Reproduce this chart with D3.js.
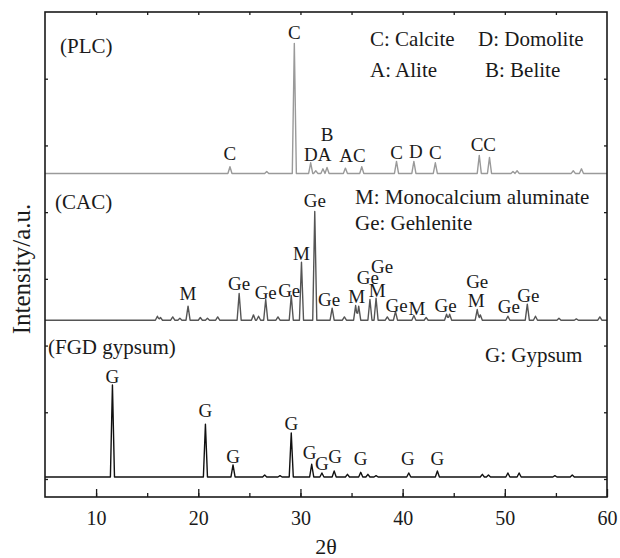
<!DOCTYPE html>
<html>
<head>
<meta charset="utf-8">
<script src="https://cdn.jsdelivr.net/npm/d3@7"></script>
<style>
  body { margin: 0; background: #fff; }
</style>
</head>
<body>
<div id="container"></div>
<script>
// peaks: [2theta, height above the pattern's own baseline] (tick units)
let plcPeaks = [[23.1,0.10],[26.7,0.03],[29.4,1.95],[31.0,0.16],[31.5,0.04],[32.2,0.07],[32.6,0.09],
  [34.4,0.08],[36.0,0.10],[39.4,0.18],[41.1,0.18],[43.2,0.16],[47.5,0.27],[48.5,0.24],
  [50.8,0.03],[51.2,0.04],[56.7,0.04],[57.5,0.07]];
let cacPeaks = [[16.0,0.06],[16.3,0.04],[17.5,0.05],[18.2,0.03],[19.0,0.21],[20.2,0.04],[20.9,0.03],
  [21.9,0.05],[24.0,0.40],[25.4,0.08],[25.9,0.06],[26.6,0.31],[27.8,0.05],[29.1,0.37],[30.1,0.87],
  [31.4,1.63],[33.1,0.18],[34.3,0.05],[35.4,0.22],[35.7,0.21],[36.8,0.31],[37.4,0.33],[38.5,0.05],
  [39.3,0.13],[41.1,0.07],[42.3,0.04],[44.3,0.09],[44.6,0.09],[47.3,0.16],[47.6,0.08],[50.3,0.06],
  [52.2,0.24],[53.0,0.06],[55.3,0.03],[57.0,0.02],[59.3,0.05]];
let fgdPeaks = [[11.6,1.38],[20.7,0.79],[23.4,0.18],[26.5,0.03],[28.0,0.02],[29.1,0.66],[31.1,0.19],
  [32.1,0.06],[33.3,0.09],[34.6,0.04],[35.9,0.07],[36.6,0.04],[37.4,0.02],[40.6,0.06],[43.4,0.09],
  [47.8,0.04],[48.4,0.03],[50.3,0.06],[51.4,0.06],[54.9,0.02],[56.6,0.03]];

// vertical offset of each pattern (tick units)
let plcOffset = 4.58;
let cacOffset = 2.38;
let fgdOffset = 0.03;

// peak labels: [text, 2theta, height above baseline]
let plcLabels = [["C",23.1,0.30],["C",29.4,2.11],["DA",31.7,0.28],["B",32.6,0.58],["AC",35.1,0.27],
  ["C",39.4,0.31],["D",41.3,0.33],["C",43.2,0.31],["CC",47.9,0.43]];
let cacLabels = [["M",19.0,0.40],["Ge",24.0,0.55],["Ge",26.6,0.42],["Ge",28.9,0.45],["M",30.1,1.0],
  ["Ge",31.4,1.80],["Ge",32.8,0.31],["M",35.5,0.36],["Ge",36.6,0.64],["Ge",38.0,0.81],["M",37.5,0.45],
  ["Ge",39.4,0.22],["M",41.4,0.18],["Ge",44.2,0.22],["M",47.2,0.30],["Ge",47.3,0.58],["Ge",50.4,0.21],
  ["Ge",52.3,0.37]];
let fgdLabels = [["G",11.6,1.51],["G",20.7,1.00],["G",23.4,0.31],["G",29.1,0.81],["G",30.9,0.37],
  ["G",32.1,0.21],["G",33.4,0.31],["G",35.9,0.28],["G",40.5,0.28],["G",43.4,0.28]];

let xTicks = [10, 20, 30, 40, 50, 60];
let xMinorTicks = [10, 15, 20, 25, 30, 35, 40, 45, 50, 55];
let yTicks = [0, 1, 2, 3, 4, 5, 6];

let w = 620;
let h = 558;
let padLeft = 45, padRight = 607, padTop = 12, padBottom = 497;
let halfWidth = 0.2;
let serif = "'Liberation Serif', 'Times New Roman', Times, serif";

let viz = d3.select("#container")
  .append("svg")
    .attr("width", w)
    .attr("height", h)
;

let xScale = d3.scaleLinear().domain([5, 60]).range([padLeft, padRight]);
let yScale = d3.scaleLinear().domain([-0.27, 7]).range([padBottom, padTop]);

// turn a list of peaks into a profile (sum of narrow triangles)
function profile(peaks){
  let xs = [5, 60];
  peaks.forEach(function(p){ xs.push(p[0] - halfWidth, p[0], p[0] + halfWidth); });
  xs.sort(function(a, b){ return a - b; });
  return xs.map(function(x){
    let v = 0;
    peaks.forEach(function(p){
      v += Math.max(0, p[1] * (1 - Math.abs(x - p[0]) / halfWidth));
    });
    return [x, v];
  });
}

function drawPattern(peaks, offset, color, labels){
  let lineMaker = d3.line()
    .x(function(d){ return xScale(d[0]); })
    .y(function(d){ return yScale(d[1] + offset); });
  viz.append("path")
    .datum(profile(peaks))
    .attr("d", lineMaker)
    .attr("fill", "none")
    .attr("stroke", color)
    .attr("stroke-width", 1.4)
    .attr("stroke-linejoin", "round");
  viz.append("g").selectAll("text")
    .data(labels)
    .enter().append("text")
      .attr("x", function(d){ return xScale(d[1]); })
      .attr("y", function(d){ return yScale(d[2] + offset); })
      .attr("dy", "0.35em")
      .attr("text-anchor", "middle")
      .attr("font-family", serif)
      .attr("font-size", 19)
      .attr("fill", "#1a1a1a")
      .text(function(d){ return d[0]; });
}

drawPattern(plcPeaks, plcOffset, "#9a9a9a", plcLabels);
drawPattern(cacPeaks, cacOffset, "#555555", cacLabels);
drawPattern(fgdPeaks, fgdOffset, "#111111", fgdLabels);

// axes: ticks point inward
let bottomAxis = viz.append("g")
  .attr("transform", "translate(0," + padBottom + ")")
  .call(d3.axisBottom(xScale).tickValues(xTicks).tickSizeInner(-8).tickSizeOuter(0).tickPadding(14));
bottomAxis.attr("font-family", serif).attr("font-size", 20);
bottomAxis.selectAll("text").attr("fill", "#1a1a1a");
viz.append("g")
  .attr("transform", "translate(0," + padBottom + ")")
  .call(d3.axisBottom(xScale).tickValues(xMinorTicks).tickSizeInner(-4).tickSizeOuter(0).tickFormat(""));
viz.append("g")
  .attr("transform", "translate(0," + padTop + ")")
  .call(d3.axisTop(xScale).tickValues(xMinorTicks).tickSizeInner(-3).tickSizeOuter(0).tickFormat(""));
viz.append("g")
  .attr("transform", "translate(" + padLeft + ",0)")
  .call(d3.axisLeft(yScale).tickValues(yTicks).tickSizeInner(-3).tickSizeOuter(0).tickFormat(""));
viz.append("g")
  .attr("transform", "translate(" + padRight + ",0)")
  .call(d3.axisRight(yScale).tickValues(yTicks).tickSizeInner(-3).tickSizeOuter(0).tickFormat(""));
viz.selectAll(".domain").remove();
viz.selectAll(".tick line").attr("stroke", "#1a1a1a").attr("stroke-width", 1.3);

viz.append("rect")
  .attr("x", padLeft).attr("y", padTop)
  .attr("width", padRight - padLeft).attr("height", padBottom - padTop)
  .attr("fill", "none")
  .attr("stroke", "#1a1a1a")
  .attr("stroke-width", 1.6);

// legend texts
let legend = [
  ["(PLC)", 60, 46], ["C: Calcite", 370, 39], ["D: Domolite", 478, 39],
  ["A: Alite", 370, 70], ["B: Belite", 485, 70],
  ["(CAC)", 55, 202], ["M: Monocalcium aluminate", 355, 197], ["Ge: Gehlenite", 355, 223],
  ["(FGD gypsum)", 48, 347], ["G: Gypsum", 485, 355]
];
viz.append("g").selectAll("text")
  .data(legend)
  .enter().append("text")
    .attr("x", function(d){ return d[1]; })
    .attr("y", function(d){ return d[2]; })
    .attr("dy", "0.35em")
    .attr("font-family", serif)
    .attr("font-size", 21)
    .attr("fill", "#1a1a1a")
    .text(function(d){ return d[0]; });

viz.append("text")
  .attr("x", 326)
  .attr("y", 546)
  .attr("dy", "0.35em")
  .attr("text-anchor", "middle")
  .attr("font-family", serif)
  .attr("font-size", 22)
  .attr("fill", "#1a1a1a")
  .text("2θ");

viz.append("text")
  .attr("transform", "translate(21,269) rotate(-90)")
  .attr("dy", "0.35em")
  .attr("text-anchor", "middle")
  .attr("font-family", serif)
  .attr("font-size", 25)
  .attr("fill", "#1a1a1a")
  .text("Intensity/a.u.");
</script>
</body>
</html>
